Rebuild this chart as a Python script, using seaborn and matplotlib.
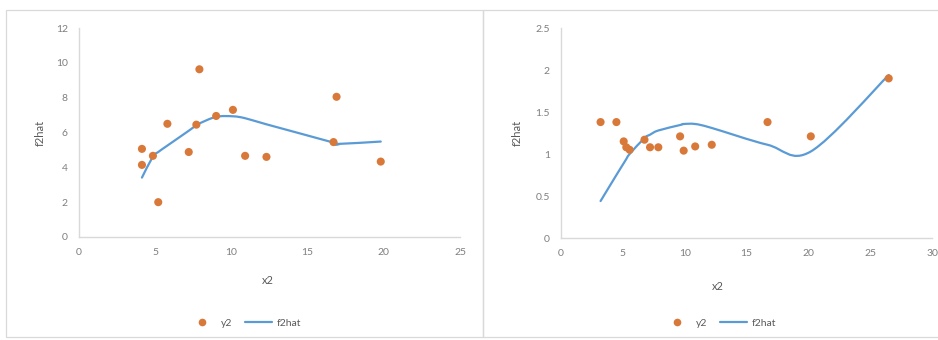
import numpy as np
import pandas as pd
import matplotlib
matplotlib.use("Agg")
import matplotlib.pyplot as plt
from matplotlib.path import Path
from matplotlib.patches import PathPatch, Rectangle
from matplotlib.lines import Line2D
import seaborn as sns

# ---- data: left chart ----
x2_left = [4.13, 4.13, 4.85, 5.2, 5.8, 7.2, 7.7, 7.9, 9.0, 10.1, 10.9, 12.3, 16.7, 16.9, 19.8]
y2_left = [5.06, 4.14, 4.66, 2.0, 6.5, 4.88, 6.45, 9.63, 6.95, 7.3, 4.66, 4.6, 5.45, 8.05, 4.33]
fit_x_left = [4.13, 4.85, 5.2, 5.8, 7.2, 7.7, 7.9, 9.0, 10.1, 10.9, 12.3, 16.7, 16.9, 19.8]
f2hat_left = [3.41, 4.62, 4.88, 5.25, 6.1, 6.42, 6.52, 6.9, 6.93, 6.82, 6.47, 5.42, 5.34, 5.48]

# ---- data: right chart ----
x2_right = [3.2, 4.48, 5.07, 5.28, 5.55, 6.75, 7.2, 7.87, 9.63, 9.92, 10.85, 12.19, 16.7, 20.2, 26.5]
y2_right = [1.38, 1.38, 1.15, 1.08, 1.05, 1.17, 1.08, 1.08, 1.21, 1.04, 1.09, 1.11, 1.38, 1.21, 1.9]
fit_x_right = x2_right
f2hat_right = [0.44, 0.75, 0.89, 0.94, 1.0, 1.19, 1.23, 1.28, 1.345, 1.357, 1.357, 1.31, 1.11, 1.03, 1.94]

x_ticks_left = [0, 5, 10, 15, 20, 25]
y_ticks_left = [0, 2, 4, 6, 8, 10, 12]
x_ticks_right = [0, 5, 10, 15, 20, 25, 30]
y_ticks_right = [0, 0.5, 1, 1.5, 2, 2.5]
y_ticklabels_right = ["0", "0.5", "1", "1.5", "2", "2.5"]

ORANGE = "#D8793A"
BLUE = "#5B9BD5"
GRAY_TXT = "#7F7F7F"
GRAY_LINE = "#D9D9D9"

sns.set_theme(style="white")
plt.rcParams["font.family"] = ["Lato", "DejaVu Sans"]

W, H = 938, 340
fig = plt.figure(figsize=(W / 100, H / 100), dpi=100)

# chart frames
for x0, x1 in [(6, 483), (483, 940)]:
    fig.patches.append(Rectangle((x0 / W, 1 - 337 / H), (x1 - x0) / W, (337 - 10) / H,
                                 transform=fig.transFigure, fill=False,
                                 edgecolor=GRAY_LINE, linewidth=0.9))


def smooth_path(xs, ys):
    """Catmull-Rom style smoothed curve as cubic Bezier segments."""
    pts = np.column_stack([xs, ys]).astype(float)
    n = len(pts)
    verts = [pts[0]]
    codes = [Path.MOVETO]
    for i in range(n - 1):
        p0 = pts[i - 1] if i > 0 else pts[i]
        p1 = pts[i]
        p2 = pts[i + 1]
        p3 = pts[i + 2] if i + 2 < n else pts[i + 1]
        c1 = p1 + (p2 - p0) / 6.0
        c2 = p2 - (p3 - p1) / 6.0
        verts += [c1, c2, p2]
        codes += [Path.CURVE4] * 3
    return Path(verts, codes)


def draw_panel(px_box, xs, ys, fx, fy, xlim, ylim, xticks, yticks, yticklabels,
               ylab_x, xlab_xy, legend_x):
    x0, x1, y_bottom, y_top = px_box
    ax = fig.add_axes([x0 / W, 1 - y_bottom / H, (x1 - x0) / W, (y_bottom - y_top) / H])
    df = pd.DataFrame({"x2": xs, "y2": ys})
    sns.scatterplot(data=df, x="x2", y="y2", ax=ax, color=ORANGE, s=34,
                    edgecolor="none", zorder=3)
    ax.add_patch(PathPatch(smooth_path(fx, fy), facecolor="none",
                           edgecolor=BLUE, linewidth=1.6, zorder=2,
                           capstyle="round"))
    ax.set_xlim(*xlim)
    ax.set_ylim(*ylim)
    ax.set_xticks(xticks)
    ax.set_xticklabels([str(t) for t in xticks])
    ax.set_yticks(yticks)
    ax.set_yticklabels(yticklabels)
    ax.tick_params(axis="both", length=0, labelsize=7.5, colors=GRAY_TXT, pad=8)
    for side in ["top", "right"]:
        ax.spines[side].set_visible(False)
    for side in ["left", "bottom"]:
        ax.spines[side].set_color(GRAY_LINE)
        ax.spines[side].set_linewidth(1.0)
    ax.set_xlabel("")
    ax.set_ylabel("")
    ax.set_facecolor("none")
    fig.text(ylab_x / W, 1 - 133 / H, "f2hat", rotation=90, ha="center",
             va="center", fontsize=8, color="#595959")
    fig.text(xlab_xy[0] / W, 1 - xlab_xy[1] / H, "x2", ha="center",
             va="center", fontsize=8, color="#595959")
    handles = [
        Line2D([], [], marker="o", linestyle="none", color=ORANGE, markersize=5.5,
               markeredgecolor="none", label="y2"),
        Line2D([], [], color=BLUE, linewidth=1.6, label="f2hat"),
    ]
    fig.legend(handles=handles, loc="center", bbox_to_anchor=(legend_x / W, 1 - 323 / H),
               ncol=2, frameon=False, fontsize=7.5, labelcolor="#595959",
               handlelength=2.6, handletextpad=0.5, columnspacing=1.2)
    return ax


draw_panel((79, 460, 237, 28),
           x2_left, y2_left, fit_x_left, f2hat_left, (0, 25), (0, 12),
           x_ticks_left, y_ticks_left, [str(t) for t in y_ticks_left],
           40, (268, 281), 245)

draw_panel((561, 932, 238, 28),
           x2_right, y2_right, fit_x_right, f2hat_right, (0, 30), (0, 2.5),
           x_ticks_right, y_ticks_right, y_ticklabels_right,
           517, (718, 287), 720)

fig.savefig("out.png", dpi=100, facecolor="white")
